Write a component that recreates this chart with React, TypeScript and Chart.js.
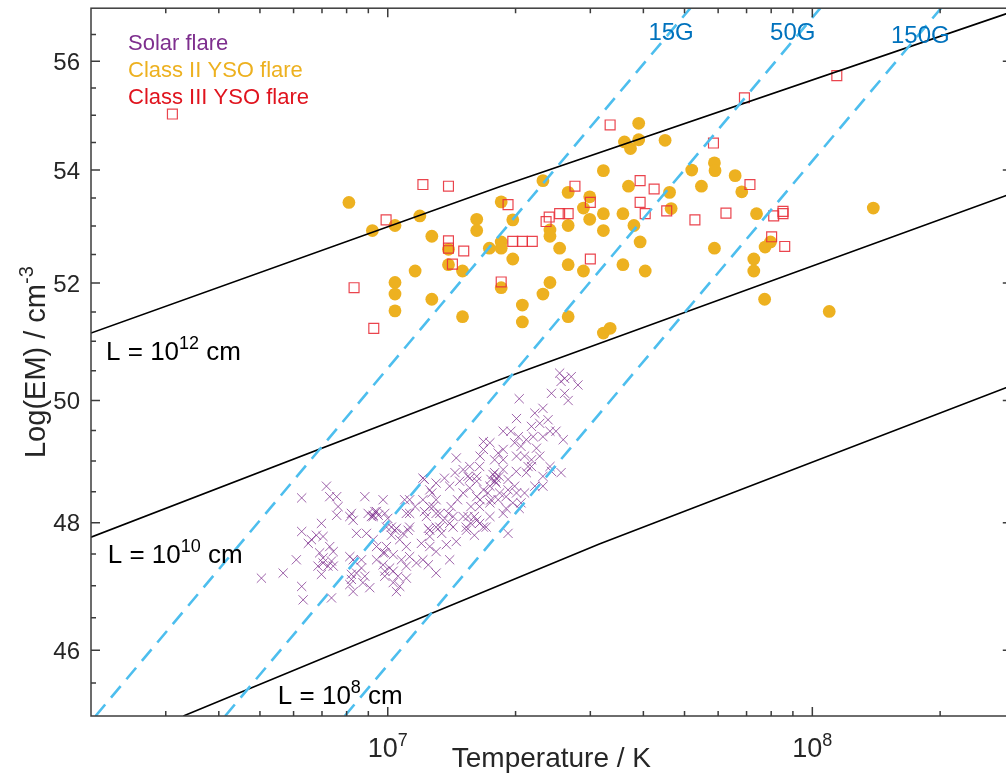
import React, { useEffect, useRef } from 'react';
import { Chart, registerables } from 'chart.js';

Chart.register(...registerables);

// ---------- data (temperature in MK, Log(EM) in log10 cm^-3) ----------
const solarTempMK = [
  25.4, 26.1, 27.05, 25.6, 28.05, 24.3, 26.1, 26.6, 20.4, 20.1,
  22.2, 23.2, 23.85, 21.8, 22.8, 24.1, 24.9, 25.9, 23.2, 18.7,
  19.5, 20.3, 21.2, 22.0, 20.6, 16.8, 17.4, 18.2, 18.7, 20.1,
  21.0, 21.8, 22.8, 24.1, 25.6, 16.8, 16.5, 15.6, 15.05, 14.5,
  14.4, 13.6, 13.0, 12.1, 17.85, 17.5, 18.0, 17.4, 18.7, 19.2,
  19.9, 21.2, 21.8, 23.2, 22.2, 20.1, 21.0, 19.7, 19.0, 20.6,
  16.8, 16.2, 15.6, 15.05, 16.5, 17.4, 18.2, 18.7, 17.4, 16.8,
  16.2, 15.7, 15.45, 15.05, 14.6, 14.1, 13.9, 14.25, 14.5, 15.3,
  13.5, 13.0, 12.7, 12.56, 12.1, 11.6, 11.26, 10.96, 11.06, 11.26,
  10.86, 10.39, 10.2, 9.93, 9.75, 9.84, 9.93, 9.75, 9.41, 9.24,
  8.91, 8.44, 8.29, 8.21, 8.83, 8.99, 9.41, 9.24, 8.14, 7.64,
  7.58, 7.17, 7.3, 6.98, 7.04, 6.79, 6.61, 7.3, 7.44, 6.91,
  7.04, 7.23, 7.37, 6.5, 6.27, 6.27, 6.09, 5.67, 5.04, 6.27,
  6.32, 7.37, 8.14, 8.29, 8.44, 8.21, 8.14, 8.83, 9.07, 9.41,
  9.75, 10.1, 9.84, 10.3, 10.67, 10.48, 11.06, 11.68, 12.1, 13.0,
  12.56, 12.0, 13.0, 11.26, 11.06, 10.67, 19.2, 13.74, 13.99, 12.2,
  13.0, 13.4, 13.99, 14.77, 15.45, 17.85, 18.7, 23.2, 24.3, 22.4,
  19.9, 9.84, 10.3, 10.77, 11.06, 9.24, 17.7, 18.0, 17.9, 18.3,
  10.48, 10.2, 9.33, 9.15, 16.46, 15.6, 16.2, 17.2, 18.34, 19.2,
  20.08, 21.4, 17.5, 19.0, 20.4, 16.2, 16.46, 16.0, 15.7, 16.46,
  14.25, 13.99, 13.0, 12.56, 12.2, 12.79, 13.26, 12.33, 11.26, 11.17,
  12.56, 13.26, 15.32, 16.0, 17.05, 7.58, 8.29, 8.67, 8.67, 8.21,
  8.74, 9.84, 10.3, 10.57, 12.46, 12.56, 12.46, 10.0, 9.5, 7.04,
  7.44, 6.98, 6.85,
];
const solarLogEM = [
  50.46, 50.37, 50.4, 50.32, 50.26, 50.12, 50.12, 50.0, 50.03, 49.7,
  49.79, 49.87, 49.68, 49.57, 49.62, 49.49, 49.49, 49.35, 49.4, 49.49,
  49.49, 49.4, 49.35, 49.4, 49.24, 49.32, 49.3, 49.13, 49.19, 49.08,
  49.08, 49.02, 49.08, 48.91, 48.81, 49.19, 49.08, 48.91, 48.86, 49.05,
  48.81, 48.72, 48.64, 48.72, 48.81, 48.7, 48.64, 48.59, 48.86, 48.7,
  48.59, 48.81, 48.91, 48.59, 48.59, 48.48, 48.48, 48.32, 48.23, 48.32,
  48.53, 48.75, 48.56, 48.48, 48.37, 48.32, 48.37, 48.15, 48.1, 47.93,
  48.04, 48.26, 48.1, 48.1, 48.37, 48.26, 48.15, 47.93, 47.7, 47.93,
  48.04, 48.15, 48.48, 48.26, 48.37, 48.26, 48.37, 48.37, 48.15, 47.93,
  47.83, 47.88, 47.8, 47.93, 48.37, 48.15, 47.62, 47.52, 47.62, 47.73,
  47.83, 47.83, 48.04, 48.15, 48.42, 48.15, 48.18, 48.1, 48.1, 48.26,
  48.42, 48.59, 48.42, 47.99, 47.78, 47.8, 47.73, 47.62, 47.54, 47.52,
  47.36, 47.31, 47.39, 47.67, 47.86, 48.4, 47.41, 47.2, 47.12, 46.99,
  46.78, 46.81, 47.46, 47.41, 47.2, 47.1, 47.02, 47.15, 46.97, 47.41,
  47.33, 47.28, 47.15, 47.05, 46.99, 46.91, 47.12, 47.36, 47.41, 47.2,
  47.62, 47.67, 47.54, 47.46, 47.62, 47.73, 47.83, 47.65, 47.41, 48.18,
  47.93, 47.83, 48.59, 48.67, 48.75, 49.02, 49.02, 48.75, 48.83, 49.21,
  49.3, 47.52, 47.49, 47.41, 47.31, 48.12, 48.78, 48.72, 48.67, 48.75,
  47.91, 47.93, 48.18, 48.1, 48.91, 48.72, 48.67, 48.48, 48.48, 48.53,
  48.83, 48.91, 48.37, 48.42, 48.23, 48.42, 48.26, 48.1, 47.99, 47.99,
  48.1, 47.99, 48.37, 48.53, 48.7, 48.26, 48.15, 48.1, 48.15, 47.88,
  47.88, 47.93, 47.88, 47.8, 47.93, 48.12, 46.91, 47.41, 47.28, 47.18,
  47.05, 47.23, 47.23, 47.15, 47.33, 47.78, 47.91, 48.07, 48.12, 47.44,
  47.31, 47.18, 47.31,
];

const class2TempMK = [
  8.1, 9.2, 10.4, 10.4, 10.4, 10.4, 11.9, 12.7, 11.6, 12.7,
  13.9, 13.9, 15.0, 15.0, 16.2, 16.2, 17.35, 18.5, 18.5, 18.5,
  18.5, 19.7, 19.7, 20.75, 20.75, 23.2, 23.2, 24.1, 24.1, 24.1,
  25.4, 26.6, 26.6, 26.6, 26.6, 28.9, 28.9, 29.9, 29.9, 32.2,
  32.2, 32.2, 32.2, 33.4, 35.8, 35.8, 36.9, 38.0, 39.3, 40.4,
  39.0, 36.1, 37.3, 39.0, 45.0, 46.1, 46.5, 52.0, 54.8, 58.8,
  59.0, 65.8, 68.2, 73.9, 58.8, 77.4, 79.7, 72.8, 72.8, 77.2,
  109.6, 139.2,
];
const class2LogEM = [
  53.42, 52.92, 53.01, 52.01, 51.81, 51.52, 53.18, 52.82, 52.21, 51.72,
  52.59, 52.32, 52.21, 51.42, 53.12, 52.92, 52.61, 53.43, 52.72, 52.61,
  51.92, 53.11, 52.42, 51.62, 51.33, 53.81, 51.81, 52.93, 52.82, 52.01,
  52.61, 53.6, 53.01, 52.32, 51.42, 53.32, 52.21, 53.52, 53.12, 53.99,
  53.22, 52.92, 51.14, 51.22, 53.22, 52.32, 53.71, 53.01, 52.72, 52.21,
  54.85, 54.51, 54.39, 54.55, 54.54, 53.6, 53.31, 54.0, 53.71, 54.13,
  53.99, 53.9, 53.61, 53.22, 52.61, 52.63, 52.72, 52.42, 52.21, 51.72,
  51.51, 53.32,
];

const class3TempMK = [
  3.11, 8.33, 9.27, 9.91, 12.1, 13.9, 13.9, 13.9, 15.1, 14.2,
  18.5, 19.2, 19.7, 20.75, 21.9, 23.6, 24.0, 25.4, 26.6, 27.6,
  30.0, 30.0, 33.4, 39.3, 39.3, 40.4, 42.4, 45.4, 52.9, 58.5,
  62.6, 69.2, 71.3, 80.2, 81.1, 85.3, 85.3, 86.1, 114.2,
];
const class3LogEM = [
  55.02, 51.92, 51.22, 53.11, 53.74, 53.71, 52.74, 52.61, 52.56, 52.33,
  52.02, 53.38, 52.73, 52.73, 52.73, 53.08, 53.16, 53.22, 53.22, 53.71,
  53.42, 52.42, 54.82, 53.81, 53.42, 53.22, 53.66, 53.27, 53.11, 54.49,
  53.23, 55.32, 53.74, 52.81, 53.18, 53.26, 53.22, 52.64, 55.73,
];

// constant loop-length lines (temperature in K)
const loopL12Temp = [2e6, 1.834e7, 2.95e8];
const loopL12EM = [51.14, 53.7, 56.93];
const loopL10Temp = [2e6, 1.834e7, 2.95e8];
const loopL10EM = [47.77, 50.35, 53.58];
const loopL8Temp = [3.3e6, 3.15e7, 2.95e8];
const loopL8EM = [45.0, 47.66, 50.25];

// constant field-strength lines (temperature in K)
const field15Temp = [2.05e6, 5.16e7];
const field15EM = [45, 57];
const field50Temp = [4.14e6, 1.044e8];
const field50EM = [45, 57];
const field150Temp = [7.92e6, 2.01e8];
const field150EM = [45, 57];

// annotations
const fieldLabels = ['15G', '50G', '150G'];
const fieldLabelTemp = [4.11e7, 7.95e7, 1.532e8];
const fieldLabelEM = [56.4, 56.4, 56.35];
const loopLabelExp = ['12', '10', '8'];
const loopLabelTemp = [2.17e6, 2.19e6, 5.51e6];
const loopLabelEM = [50.68, 47.36, 45.18];

const legendLabels = ['Solar flare', 'Class II YSO flare', 'Class III YSO flare'];
const legendColors = ['#7E2F8E', '#EDB120', '#E0141E'];

// axes
const xMin = 2e6;
const xMax = 2.95e8;
const yMin = 45;
const yMax = 57;
const xMajorTicks = [1e7, 1e8];
const xTickExp = ['7', '8'];
const xMinorTicks = [3e6, 4e6, 5e6, 6e6, 7e6, 8e6, 9e6, 2e7, 3e7, 4e7, 5e7, 6e7, 7e7, 8e7, 9e7, 2e8];
const yMajorTicks = [46, 48, 50, 52, 54, 56];
const yMinorTicks = [45.5, 46.5, 47, 47.5, 48.5, 49, 49.5, 50.5, 51, 51.5, 52.5, 53, 53.5, 54.5, 55, 55.5, 56.5];

const FONT = '"Liberation Sans", Arial, Helvetica, sans-serif';

const toPoints = (t: number[], e: number[], scale = 1) =>
  t.map((v, i) => ({ x: v * scale, y: e[i] }));

type Part = { t: string; size: number; rise: number };

function drawRich(ctx: CanvasRenderingContext2D, parts: Part[], x: number, y: number, align: 'left' | 'center' | 'right') {
  const widths = parts.map((p) => {
    ctx.font = `${p.size}px ${FONT}`;
    return ctx.measureText(p.t).width;
  });
  const total = widths.reduce((a, b) => a + b, 0);
  let cx = align === 'left' ? x : align === 'center' ? x - total / 2 : x - total;
  ctx.textAlign = 'left';
  ctx.textBaseline = 'alphabetic';
  parts.forEach((p, i) => {
    ctx.font = `${p.size}px ${FONT}`;
    ctx.fillText(p.t, cx, y - p.rise);
    cx += widths[i];
  });
}

const matlabAxes = {
  id: 'matlabAxes',
  afterDatasetsDraw(chart: any) {
    const { ctx, chartArea: a, scales } = chart;
    const xs = scales.x;
    const ys = scales.y;
    ctx.save();
    ctx.strokeStyle = '#3c3c3c';
    ctx.lineWidth = 1.5;
    ctx.beginPath();
    const xt = (v: number, len: number) => {
      const px = xs.getPixelForValue(v);
      ctx.moveTo(px, a.bottom);
      ctx.lineTo(px, a.bottom - len);
      ctx.moveTo(px, a.top);
      ctx.lineTo(px, a.top + len);
    };
    const yt = (v: number, len: number) => {
      const py = ys.getPixelForValue(v);
      ctx.moveTo(a.left, py);
      ctx.lineTo(a.left + len, py);
      ctx.moveTo(a.right, py);
      ctx.lineTo(a.right - len, py);
    };
    xMajorTicks.forEach((v) => xt(v, 9));
    xMinorTicks.forEach((v) => xt(v, 5));
    yMajorTicks.forEach((v) => yt(v, 9));
    yMinorTicks.forEach((v) => yt(v, 5));
    ctx.stroke();
    ctx.strokeRect(a.left, a.top, a.right - a.left, a.bottom - a.top);

    // tick labels
    ctx.fillStyle = '#262626';
    yMajorTicks.forEach((v) => {
      const py = ys.getPixelForValue(v);
      drawRich(ctx, [{ t: String(v), size: 24, rise: 0 }], a.left - 11, py + 8.5, 'right');
    });
    xMajorTicks.forEach((v, i) => {
      const px = xs.getPixelForValue(v);
      drawRich(ctx, [
        { t: '10', size: 27, rise: 0 },
        { t: xTickExp[i], size: 18, rise: 11 },
      ], px, a.bottom + 41, 'center');
    });

    // axis titles
    drawRich(ctx, [{ t: 'Temperature / K', size: 28, rise: 0 }], (a.left + a.right) / 2, a.bottom + 51, 'center');
    ctx.save();
    ctx.translate(45, (a.top + a.bottom) / 2);
    ctx.rotate(-Math.PI / 2);
    drawRich(ctx, [
      { t: 'Log(EM) / cm', size: 29, rise: 0 },
      { t: '-3', size: 20, rise: 12 },
    ], 0, 0, 'center');
    ctx.restore();

    // field-strength labels
    ctx.fillStyle = '#0072BD';
    fieldLabels.forEach((lab, i) => {
      drawRich(ctx, [{ t: lab, size: 24, rise: 0 }],
        xs.getPixelForValue(fieldLabelTemp[i]), ys.getPixelForValue(fieldLabelEM[i]), 'left');
    });

    // loop-length labels
    ctx.fillStyle = '#000000';
    loopLabelExp.forEach((ex, i) => {
      drawRich(ctx, [
        { t: 'L = 10', size: 26, rise: 0 },
        { t: ex, size: 18, rise: 11 },
        { t: ' cm', size: 26, rise: 0 },
      ], xs.getPixelForValue(loopLabelTemp[i]), ys.getPixelForValue(loopLabelEM[i]), 'left');
    });

    // legend (text only)
    legendLabels.forEach((lab, i) => {
      ctx.fillStyle = legendColors[i];
      drawRich(ctx, [{ t: lab, size: 22, rise: 0 }], a.left + 37, a.top + 42 + i * 27, 'left');
    });
    ctx.restore();
  },
};

export default function App() {
  const ref = useRef<HTMLCanvasElement>(null);
  useEffect(() => {
    if (!ref.current) return;
    const lineDs = (t: number[], e: number[], dashed: boolean) => ({
      data: toPoints(t, e),
      showLine: true,
      pointRadius: 0,
      borderColor: dashed ? '#4DBEEE' : '#000000',
      borderWidth: dashed ? 2.6 : 1.6,
      borderDash: dashed ? [15, 9] : [],
      fill: false,
      tension: 0,
    });
    const chart = new Chart(ref.current, {
      type: 'scatter',
      data: {
        datasets: [
          lineDs(field15Temp, field15EM, true),
          lineDs(field50Temp, field50EM, true),
          lineDs(field150Temp, field150EM, true),
          lineDs(loopL12Temp, loopL12EM, false),
          lineDs(loopL10Temp, loopL10EM, false),
          lineDs(loopL8Temp, loopL8EM, false),
          {
            label: legendLabels[2],
            data: toPoints(class3TempMK, class3LogEM, 1e6),
            pointStyle: 'rect',
            pointRadius: 7,
            backgroundColor: 'rgba(0,0,0,0)',
            borderColor: 'rgba(232,48,58,0.9)',
            borderWidth: 1.2,
          },
          {
            label: legendLabels[1],
            data: toPoints(class2TempMK, class2LogEM, 1e6),
            pointStyle: 'circle',
            pointRadius: 6.4,
            backgroundColor: '#EDB120',
            borderColor: '#EDB120',
            borderWidth: 0,
          },
          {
            label: legendLabels[0],
            data: toPoints(solarTempMK, solarLogEM, 1e6),
            pointStyle: 'crossRot',
            pointRadius: 6.5,
            backgroundColor: 'rgba(0,0,0,0)',
            borderColor: 'rgba(126,47,142,0.75)',
            borderWidth: 1,
          },
        ] as any,
      },
      options: {
        responsive: false,
        animation: false,
        devicePixelRatio: 1,
        events: [],
        layout: { padding: { left: 91, top: 7, right: 8, bottom: 58 } },
        scales: {
          x: { type: 'logarithmic', min: xMin, max: xMax, display: false },
          y: { type: 'logarithmic', min: yMin, max: yMax, display: false },
        },
        plugins: {
          legend: { display: false },
          tooltip: { enabled: false },
        },
      } as any,
      plugins: [matlabAxes],
    });
    return () => chart.destroy();
  }, []);
  return (
    <div style={{ position: 'absolute', left: 0, top: 0, width: 1006, height: 774, overflow: 'hidden', background: '#ffffff' }}>
      <canvas ref={ref} width={1020} height={774} style={{ display: 'block', width: 1020, height: 774 }} />
    </div>
  );
}
